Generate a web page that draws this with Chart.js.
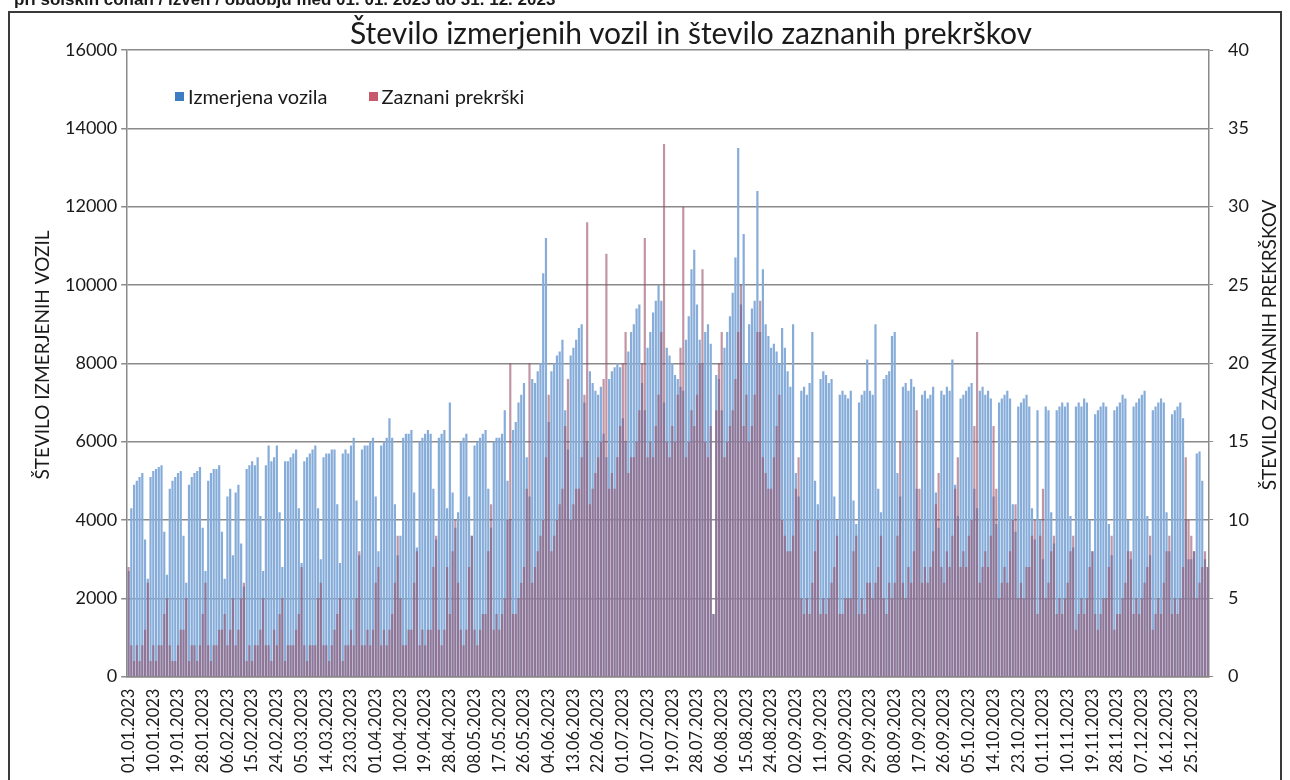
<!DOCTYPE html>
<html lang="sl">
<head>
<meta charset="utf-8">
<title>Število izmerjenih vozil in število zaznanih prekrškov</title>
<script src="https://cdn.jsdelivr.net/npm/chart.js@4.4.1/dist/chart.umd.min.js"></script>
<style>
    html, body { margin: 0; padding: 0; background: #fff; }
    #page { position: relative; width: 1290px; height: 780px; overflow: hidden; font-family: Lato, "Open Sans", sans-serif; color: #1a1a1a; }
    #chart { position: absolute; left: 0; top: 0; }
    #frame { position: absolute; left: 8px; top: 11px; width: 1274px; height: 800px; border: 2px solid #3a3a3a; box-sizing: border-box; pointer-events: none; }
    #topText { position: absolute; left: 14px; top: -9px; font: bold 17px "Liberation Sans", Arial, sans-serif; line-height: 17px; white-space: nowrap; }
    #chartTitle { position: absolute; left: 0; width: 1382px; top: 14px; text-align: center; font-size: 30px; line-height: 36px; }
    #legend { position: absolute; left: 175px; top: 85px; display: flex; font-size: 20px; line-height: 22px; }
    #legend span.item { display: flex; align-items: center; margin-right: 41px; }
    #legend span.box { display: inline-block; width: 9px; height: 9px; margin-right: 4px; }
</style>
</head>
<body>
<div id="page">
    <canvas id="chart" width="1290" height="780"></canvas>
    <div id="topText">pri šolskih conah / izven / obdobju med 01. 01. 2023 do 31. 12. 2023</div>
    <div id="frame"></div>
    <div id="chartTitle">Število izmerjenih vozil in število zaznanih prekrškov</div>
    <div id="legend"></div>
</div>

<script>
// Tick labels as printed under the axis (one every 9 days)
const tickLabels = ["01.01.2023","10.01.2023","19.01.2023","28.01.2023","06.02.2023","15.02.2023","24.02.2023",
    "05.03.2023","14.03.2023","23.03.2023","01.04.2023","10.04.2023","19.04.2023","28.04.2023","08.05.2023",
    "17.05.2023","26.05.2023","04.06.2023","13.06.2023","22.06.2023","01.07.2023","10.07.2023","19.07.2023",
    "28.07.2023","06.08.2023","15.08.2023","24.08.2023","02.09.2023","11.09.2023","20.09.2023","29.09.2023",
    "08.09.2023","17.09.2023","26.09.2023","05.10.2023","14.10.2023","23.10.2023","01.11.2023","10.11.2023",
    "19.11.2023","28.11.2023","07.12.2023","16.12.2023","25.12.2023"];
const TICK_STEP = 9;

// Izmerjena vozila (daily, left axis) - one row per week, Mon..Sun
const vozila = [
    2700,
    4300, 4900, 5000, 5100, 5200, 3500, 2500,
    5100, 5250, 5300, 5350, 5400, 3700, 2600,
    4800, 5000, 5100, 5200, 5250, 3600, 2400,
    4900, 5100, 5200, 5250, 5350, 3800, 2700,
    5000, 5200, 5300, 5300, 5400, 3700, 2500,
    4600, 4800, 3100, 4700, 4900, 3400, 2300,
    5300, 5400, 5500, 5400, 5600, 4100, 2700,
    5400, 5900, 5500, 5600, 5900, 4200, 2800,
    5500, 5500, 5600, 5700, 5800, 4300, 2900,
    5500, 5600, 5700, 5800, 5900, 4300, 3000,
    5600, 5700, 5700, 5800, 5800, 4400, 2900,
    5700, 5800, 5700, 5900, 6100, 4500, 3100,
    5800, 5900, 5900, 6000, 6100, 4600, 3200,
    5900, 6000, 6100, 6600, 6100, 4400, 3100,
    3600, 6100, 6200, 6200, 6300, 4700, 3300,
    6000, 6100, 6200, 6300, 6200, 4800, 3500,
    6100, 6200, 6300, 4300, 7000, 4700, 3800,
    4200, 6000, 6100, 6200, 4600, 3600,
    5900, 6000, 6100, 6200, 6300, 4800, 3800,
    6000, 6100, 6100, 6200, 6800, 5000, 4000,
    6300, 6500, 7000, 7200, 7500, 5600, 4600,
    7600, 7500, 7800, 8000, 10300, 11200, 6500,
    7800, 8000, 8200, 8300, 8600, 6800, 5800,
    8200, 8400, 8600, 8900, 9000, 7000, 6000,
    7800, 7500, 7300, 7200, 7400, 6200, 5600,
    7600, 7800, 7900, 8000, 7900, 6600, 6000,
    8300, 8800, 9000, 9400, 9500, 7500, 6800,
    8400, 8800, 9300, 9600, 10000, 9600, 7000,
    8400, 8200, 8000, 7700, 7600, 7400, 7300,
    8600, 9200, 10400, 10900, 9500, 8600, 8000,
    8800, 9000, 8500, 1600, 7700, 7600, 6800,
    8400, 8800, 9200, 9800, 10700, 13500, 9500,
    11300, 8000, 9000, 9400, 9600, 12400, 8800,
    10400, 9000, 8700, 8400, 8500, 8300, 8000,
    8900, 8400, 7800, 7400, 9000, 5200, 4600,
    7300, 7400, 7200, 7500, 8800, 5000, 4400,
    7600, 7800, 7700, 7500, 7600, 4600, 4000,
    7200, 7300, 7200, 7100, 7300, 4500, 3900,
    7000, 7200, 7300, 8100, 7300,
    7200, 9000, 4800, 4200,
    7600, 7700, 7800, 8700, 8800, 5200, 4600,
    7400, 7500, 7300, 7600, 7400, 4800, 4000,
    7200, 7300, 7100, 7200, 7400, 4700, 3800,
    7300, 7200, 7400, 7300, 8100, 4900, 4100,
    7100, 7200, 7300, 7400, 7500, 4800, 4300,
    7300, 7400, 7200, 7300, 7100, 4600, 3900,
    7000, 7100, 7200, 7300, 7100, 4400, 3700,
    6900, 7000, 7100, 7200, 6900, 4300, 3500,
    6800, 4000, 3000, 6900, 6800, 4200, 3400,
    6800, 6900, 7000, 6900, 7000, 4100, 3300,
    6900, 7000, 6900, 7100, 7000, 4000, 3200,
    6700, 6800, 6900, 7000, 6900, 3900, 3100,
    6800, 6900, 7000, 7200, 7100, 4000, 3000,
    6900, 7000, 7100, 7200, 7300, 4100, 3100,
    6800, 6900, 7000, 7100, 7000, 4200, 3200,
    6700, 6800, 6900, 7000, 6600, 4000, 3000,
    3000, 3200, 5700, 5750, 5000, 3000, 2800
];

// Zaznani prekrški (daily, right axis)
const prekrski = [
    7,
    2, 1, 2, 1, 2, 3, 6,
    1, 2, 1, 2, 2, 4, 5,
    2, 1, 1, 2, 3, 3, 5,
    1, 2, 2, 1, 2, 4, 6,
    2, 1, 2, 2, 3, 3, 4,
    2, 3, 5, 2, 3, 5, 6,
    1, 2, 1, 2, 2, 3, 5,
    2, 2, 1, 3, 2, 4, 5,
    1, 2, 2, 2, 3, 4, 7,
    2, 1, 2, 2, 2, 5, 6,
    2, 2, 1, 2, 3, 4, 5,
    1, 2, 2, 3, 2, 5, 8,
    2, 2, 3, 2, 3, 6, 7,
    2, 3, 2, 3, 4, 6, 9,
    5, 2, 2, 3, 3, 6, 8,
    2, 3, 2, 3, 3, 7, 9,
    3, 2, 3, 7, 4, 8, 10,
    6, 3, 2, 3, 7, 9,
    3, 2, 3, 4, 4, 8, 11,
    3, 4, 3, 4, 5, 10, 20,
    4, 4, 5, 6, 7, 12, 20,
    6, 7, 8, 9, 10, 14, 18,
    8, 9, 10, 11, 12, 16, 19,
    10, 11, 12, 12, 14, 18, 29,
    11, 12, 13, 14, 15, 19, 27,
    12, 13, 12, 14, 16, 20, 22,
    13, 14, 14, 15, 17, 20, 28,
    14, 15, 14, 16, 18, 22, 34,
    15, 14, 16, 15, 18, 21, 30,
    14, 15, 17, 16, 18, 20, 26,
    15, 14, 16, 4, 17, 20, 22,
    14, 15, 16, 17, 19, 22, 25,
    16, 18, 15, 16, 18, 22, 24,
    14, 13, 12, 12, 14, 16, 18,
    10, 9, 8, 8, 9, 12, 14,
    5, 4, 5, 4, 6, 8, 10,
    4, 5, 4, 5, 6, 7, 9,
    4, 4, 5, 5, 5, 8, 9,
    4, 5, 4, 6, 6,
    5, 6, 7, 9,
    5, 4, 6, 5, 6, 9, 15,
    6, 5, 7, 6, 8, 17, 12,
    6, 7, 6, 7, 8, 11, 13,
    7, 6, 8, 7, 9, 12, 14,
    7, 8, 7, 9, 10, 16, 22,
    6, 7, 8, 7, 9, 16, 12,
    5, 6, 7, 6, 8, 10, 11,
    5, 6, 5, 7, 7, 9, 10,
    4, 9, 12, 5, 6, 8, 9,
    4, 5, 4, 5, 6, 8, 9,
    3, 4, 5, 4, 5, 7, 8,
    4, 3, 4, 5, 5, 7, 9,
    3, 4, 4, 5, 6, 8, 8,
    4, 5, 4, 5, 6, 7, 9,
    3, 4, 5, 4, 6, 8, 9,
    4, 5, 4, 5, 7, 14, 10,
    9, 8, 5, 6, 7, 8, 7
];

// only every 9th category carries a printed date
const categories = vozila.map((v, i) => (i % TICK_STEP === 0 ? tickLabels[i / TICK_STEP] : ""));

const textColour = "#1a1a1a";
const gridColour = "#8a8a8a";

// both axis titles read bottom-to-top, as in the sheet
const axisTitles = {
    id: "axisTitles",
    afterDraw(chart) {
        const ctx = chart.ctx;
        const titles = [
            { text: "ŠTEVILO IZMERJENIH VOZIL", x: 43, y: 355 },
            { text: "ŠTEVILO ZAZNANIH PREKRŠKOV", x: 1270, y: 345 }
        ];
        ctx.save();
        ctx.font = "19px Lato";
        ctx.fillStyle = textColour;
        ctx.textAlign = "center";
        ctx.textBaseline = "middle";
        titles.forEach(function (t) {
            ctx.save();
            ctx.translate(t.x, t.y);
            ctx.rotate(-Math.PI / 2);
            ctx.fillText(t.text, 0, 0);
            ctx.restore();
        });
        ctx.restore();
    }
};

const chart = new Chart(document.getElementById("chart"), {
    type: "bar",
    data: {
        labels: categories,
        datasets: [
            {
                label: "Izmerjena vozila",
                data: vozila,
                yAxisID: "y",
                backgroundColor: "#86acd9",
                legendColour: "#3c7dc4",
                order: 1
            },
            {
                label: "Zaznani prekrški",
                data: prekrski,
                yAxisID: "y1",
                backgroundColor: "rgba(150, 80, 105, 0.6)",
                legendColour: "#c8596c",
                order: 0
            }
        ]
    },
    options: {
        responsive: false,
        animation: false,
        datasets: {
            bar: {
                grouped: false,
                barPercentage: 1,
                categoryPercentage: 0.8
            }
        },
        layout: {
            padding: { left: 61, right: 26, top: 50, bottom: 3 }
        },
        plugins: {
            legend: { display: false },
            tooltip: { enabled: false }
        },
        scales: {
            x: {
                grid: { display: false },
                border: { display: true, color: gridColour, width: 1.5 },
                ticks: {
                    autoSkip: false,
                    minRotation: 90,
                    maxRotation: 90,
                    padding: 4,
                    color: textColour,
                    font: { family: "Lato", size: 16.5 }
                }
            },
            y: {
                position: "left",
                min: 0,
                max: 16000,
                ticks: {
                    stepSize: 2000,
                    padding: 4,
                    color: textColour,
                    font: { family: "Lato", size: 18 },
                    callback: (value) => String(value)
                },
                grid: { color: gridColour, lineWidth: 1.5, tickLength: 6 },
                border: { color: gridColour, width: 1.5 }
            },
            y1: {
                position: "right",
                min: 0,
                max: 40,
                ticks: {
                    stepSize: 5,
                    padding: 15,
                    color: textColour,
                    font: { family: "Lato", size: 18 }
                },
                grid: { drawOnChartArea: false, color: gridColour, tickLength: 4 },
                border: { color: gridColour, width: 1.5 }
            }
        }
    },
    plugins: [axisTitles]
});

// Legend sits inside the plot, like in the original sheet
const legend = document.getElementById("legend");
chart.data.datasets.forEach(function (ds) {
    legend.innerHTML += `<span class="item"><span class="box" style="background:` + ds.legendColour + `;"></span>` + ds.label + `</span>`;
});
</script>
</body>
</html>
